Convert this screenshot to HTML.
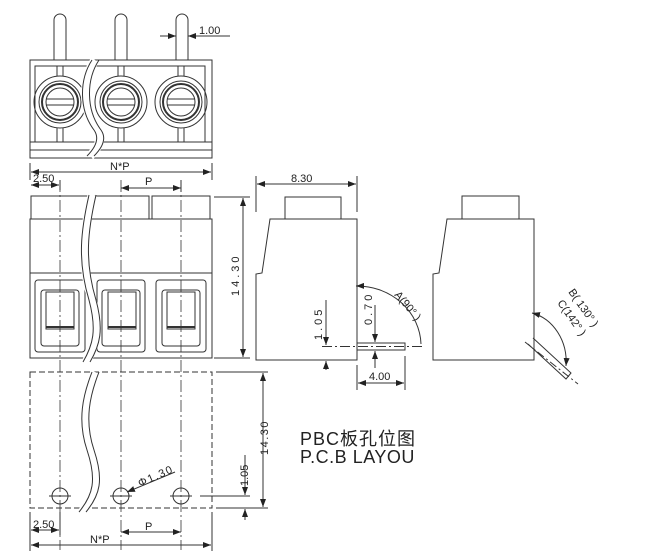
<!DOCTYPE html>
<html><head><meta charset="utf-8"><style>
html,body{margin:0;padding:0;background:#fff;width:649px;height:551px;overflow:hidden}
svg{display:block}
text{font-family:"Liberation Sans","Noto Sans CJK SC",sans-serif;fill:#222}
</style></head><body>
<svg width="649" height="551" viewBox="0 0 649 551" xmlns="http://www.w3.org/2000/svg">
<defs>
<marker id="a" markerWidth="8" markerHeight="6" refX="8" refY="3" orient="auto" markerUnits="userSpaceOnUse"><path d="M0,0 L8,3 L0,6 Z" fill="#222"/></marker>
<marker id="b" markerWidth="8" markerHeight="6" refX="0" refY="3" orient="auto" markerUnits="userSpaceOnUse"><path d="M8,0 L0,3 L8,6 Z" fill="#222"/></marker>
</defs>
<g fill="none" stroke="#333" stroke-width="1">
<path d="M54,60 V20 a6,6 0 0 1 12,0 V60 M115,60 V20 a6,6 0 0 1 12,0 V60 M176,60 V20 a6,6 0 0 1 12,0 V60"/>
<rect x="30" y="60" width="182" height="98"/>
<rect x="35" y="66" width="170" height="76"/>
<line x1="30" y1="142" x2="212" y2="142"/><line x1="30" y1="150" x2="212" y2="150"/>
<g>
<circle cx="60" cy="102" r="26"/><circle cx="60" cy="102" r="21"/><circle cx="60" cy="102" r="18" stroke-width="2"/><circle cx="60" cy="102" r="14"/>
<circle cx="121" cy="102" r="26"/><circle cx="121" cy="102" r="21"/><circle cx="121" cy="102" r="18" stroke-width="2"/><circle cx="121" cy="102" r="14"/>
<circle cx="181" cy="102" r="26"/><circle cx="181" cy="102" r="21"/><circle cx="181" cy="102" r="18" stroke-width="2"/><circle cx="181" cy="102" r="14"/>
<path d="M46,99 H74 M46,105 H74 M107,99 H135 M107,105 H135 M167,99 H195 M167,105 H195"/>
<path d="M57,66 V76 M63,66 V76 M57,128 V142 M63,128 V142 M118,66 V76 M124,66 V76 M118,128 V142 M124,128 V142 M178,66 V76 M184,66 V76 M178,128 V142 M184,128 V142"/>
</g>
<line x1="160" y1="36" x2="176" y2="36" marker-end="url(#a)"/>
<line x1="230" y1="36" x2="188" y2="36" marker-end="url(#a)"/>
<path d="M30,163 V180 M212,163 V180"/>
<line x1="31" y1="172" x2="211" y2="172" marker-start="url(#b)" marker-end="url(#a)"/>
<line x1="31" y1="185" x2="59" y2="185" marker-start="url(#b)" marker-end="url(#a)"/>
<path d="M60,180 V190 M181,180 V192"/>
<line x1="121" y1="188" x2="181" y2="188" marker-start="url(#b)" marker-end="url(#a)"/>
<rect x="31" y="196" width="118" height="23"/><rect x="152" y="196" width="58" height="23"/>
<rect x="30" y="219" width="182" height="139"/>
<line x1="30" y1="273" x2="212" y2="273"/>
<g>
<rect x="35" y="280" width="50" height="72" rx="3"/><rect x="41" y="290" width="38" height="56" rx="3"/><rect x="46" y="292" width="28" height="37"/><line x1="46" y1="327" x2="74" y2="327" stroke-width="2"/>
<rect x="97" y="280" width="48" height="72" rx="3"/><rect x="102" y="290" width="38" height="56" rx="3"/><rect x="108" y="292" width="28" height="37"/><line x1="108" y1="327" x2="136" y2="327" stroke-width="2"/>
<rect x="156" y="280" width="50" height="72" rx="3"/><rect x="162" y="290" width="38" height="56" rx="3"/><rect x="167" y="292" width="28" height="37"/><line x1="167" y1="327" x2="195" y2="327" stroke-width="2"/>
</g>
<path d="M60,180 V550 M121,180 V550 M181,180 V550" stroke-dasharray="12,3,2,3" stroke-width="0.8"/>
<path d="M214,197 H250 M214,358 H250"/>
<line x1="243" y1="198" x2="243" y2="357" marker-start="url(#b)" marker-end="url(#a)"/>
<rect x="285" y="197" width="56" height="22"/>
<path d="M270,219 H357 V360 H256 V274 L262,273 Z"/>
<path d="M256,176 V212 M357,176 V212"/>
<line x1="257" y1="184" x2="356" y2="184" marker-start="url(#b)" marker-end="url(#a)"/>
<rect x="357" y="343" width="48" height="7"/>
<line x1="322" y1="346.5" x2="425" y2="346.5" stroke-dasharray="10,3,2,3"/>
<line x1="326" y1="300" x2="326" y2="345" marker-end="url(#a)"/>
<line x1="326" y1="370" x2="326" y2="361" marker-end="url(#a)"/>
<line x1="375" y1="305" x2="375" y2="342" marker-end="url(#a)"/>
<line x1="375" y1="368" x2="375" y2="351" marker-end="url(#a)"/>
<path d="M357,365 V390 M405,356 V390"/>
<line x1="358" y1="383" x2="404" y2="383" marker-start="url(#b)" marker-end="url(#a)"/>
<path d="M421,344 A64,60 0 0 0 356,286" marker-end="url(#a)"/>
<rect x="462" y="196" width="57" height="23"/>
<path d="M447,219 H534 V360 H433 V274 L439,273 Z"/>
<path d="M531,340 L569,375 L574,369 L536,334" transform="translate(-3,4)"/>
<line x1="525" y1="342" x2="578" y2="384" stroke-dasharray="8,3,2,3"/>
<path d="M566,366 A44,50 0 0 0 532,313" marker-start="url(#b)" marker-end="url(#a)"/>
<rect x="30" y="372" width="182" height="136" stroke-dasharray="6,3"/>
<circle cx="60" cy="496" r="8"/><circle cx="121" cy="496" r="8"/><circle cx="181" cy="496" r="8"/>
<path d="M49,496 H71 M110,496 H132 M170,496 H192"/>
<line x1="175" y1="472" x2="127" y2="492" marker-end="url(#a)"/>
<path d="M216,372 H268 M216,508 H268 M200,496 H250"/>
<line x1="263" y1="373" x2="263" y2="507" marker-start="url(#b)" marker-end="url(#a)"/>
<line x1="245" y1="455" x2="245" y2="495" marker-end="url(#a)"/>
<line x1="245" y1="520" x2="245" y2="509" marker-end="url(#a)"/>
<path d="M30,512 V551 M212,512 V551 M60,512 V535"/>
<line x1="31" y1="530" x2="59" y2="530" marker-start="url(#b)" marker-end="url(#a)"/>
<line x1="121" y1="532" x2="181" y2="532" marker-start="url(#b)" marker-end="url(#a)"/>
<line x1="31" y1="545" x2="211" y2="545" marker-start="url(#b)" marker-end="url(#a)"/>
<!-- wire breaks (three segments) -->
<g>
<path d="M95,60 C82,80 82,110 97,130 C104,140 96,150 90,156" stroke="#fff" stroke-width="9"/>
<path d="M92,60 C79,80 79,110 94,130 C101,140 93,150 87,156"/>
<path d="M99,60 C86,80 86,110 101,130 C108,140 100,150 94,156"/>
<path d="M92,195 C84,230 80,260 92,300 C100,330 96,345 86,362" stroke="#fff" stroke-width="9"/>
<path d="M89,195 C81,230 77,260 89,300 C97,330 93,345 83,362"/>
<path d="M96,195 C88,230 84,260 96,300 C104,330 100,345 90,362"/>
<path d="M95,372 C86,395 80,420 90,450 C100,480 96,495 82,512" stroke="#fff" stroke-width="9"/>
<path d="M92,372 C83,395 77,420 87,450 C97,480 93,495 79,512"/>
<path d="M99,372 C90,395 84,420 94,450 C104,480 100,495 86,512"/>
</g>
</g>
<g font-size="11">
<text x="199" y="34">1.00</text>
<text x="110" y="170">N*P</text>
<text x="33" y="182">2.50</text>
<text x="145" y="185">P</text>
<text x="291" y="182">8.30</text>
<text x="369" y="380">4.00</text>
<text x="33" y="528">2.50</text>
<text x="145" y="530">P</text>
<text x="90" y="543">N*P</text>
<text transform="translate(239,296) rotate(-90)" letter-spacing="3">14.30</text>
<text transform="translate(322,340) rotate(-90)" letter-spacing="3">1.05</text>
<text transform="translate(372,325) rotate(-90)" letter-spacing="3">0.70</text>
<text transform="translate(268,455) rotate(-90)" letter-spacing="1.5">14.30</text>
<text transform="translate(248,486) rotate(-90)">1.05</text>
<text transform="translate(140,487) rotate(-24)" letter-spacing="1.5">Φ1.30</text>
<text transform="translate(394,295) rotate(50)">A(90° )</text>
<text transform="translate(568,292) rotate(55)">B( 130° )</text>
<text transform="translate(557,303) rotate(55)">C(142° )</text>
</g>
<text x="300" y="445" font-size="18" letter-spacing="1">PBC板孔位图</text>
<text x="300" y="463" font-size="18" letter-spacing="0.5">P.C.B LAYOU</text>
</svg>
</body></html>
